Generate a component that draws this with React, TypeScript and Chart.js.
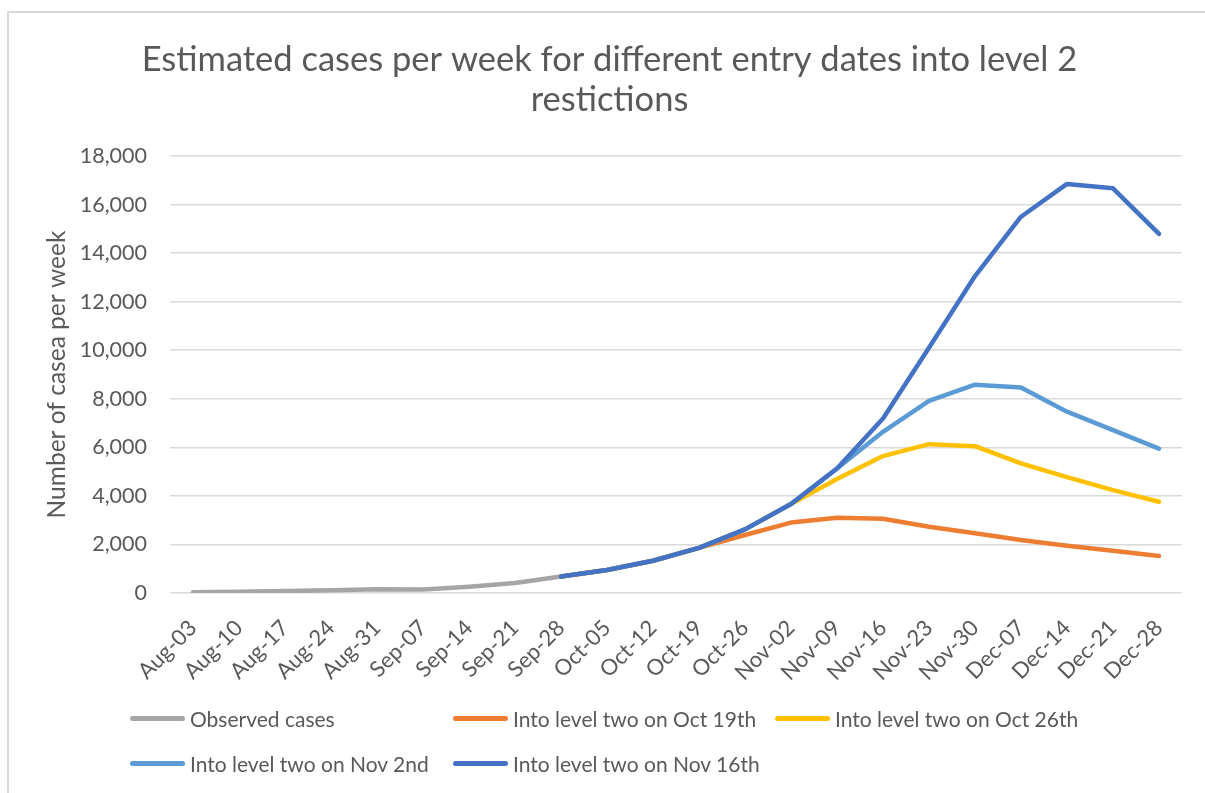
import React, { useEffect, useRef } from "react";
import { Chart, registerables } from "chart.js";

Chart.register(...registerables);

const weeks = [
  "Aug-03", "Aug-10", "Aug-17", "Aug-24", "Aug-31", "Sep-07", "Sep-14", "Sep-21", "Sep-28",
  "Oct-05", "Oct-12", "Oct-19", "Oct-26", "Nov-02", "Nov-09", "Nov-16", "Nov-23", "Nov-30",
  "Dec-07", "Dec-14", "Dec-21", "Dec-28",
];

const observedCases = [30, 50, 80, 110, 150, 140, 260, 410, 680, null, null, null, null, null, null, null, null, null, null, null, null, null];

const levelTwoOct19 = [null, null, null, null, null, null, null, null, 680, 950, 1330, 1860, 2390, 2900, 3100, 3060, 2730, 2460, 2180, 1950, 1740, 1520];
const levelTwoOct26 = [null, null, null, null, null, null, null, null, 680, 950, 1330, 1860, 2620, 3670, 4700, 5640, 6130, 6050, 5340, 4770, 4240, 3760];
const levelTwoNov02 = [null, null, null, null, null, null, null, null, 680, 950, 1330, 1860, 2620, 3670, 5130, 6640, 7910, 8580, 8470, 7470, 6710, 5945];
const levelTwoNov16 = [null, null, null, null, null, null, null, null, 680, 950, 1330, 1860, 2620, 3670, 5130, 7190, 10100, 13056, 15500, 16850, 16670, 14790];

const seriesNames = [
  "Observed cases",
  "Into level two on Oct 19th",
  "Into level two on Oct 26th",
  "Into level two on Nov 2nd",
  "Into level two on Nov 16th",
];
const seriesColors = ["#A5A5A5", "#ED7D31", "#FFC000", "#5B9BD5", "#4472C4"];

const yTicks = [0, 2000, 4000, 6000, 8000, 10000, 12000, 14000, 16000, 18000];

const titleLines = ["Estimated cases per week for different entry dates into level 2", "restictions"];
const yAxisTitle = "Number of casea per week";

const FONT = "Lato, 'Liberation Sans', sans-serif";
const TEXT = "#595959";

const legendSlots = [
  { left: 130, top: 718 },
  { left: 453, top: 718 },
  { left: 775, top: 718 },
  { left: 130, top: 763 },
  { left: 453, top: 763 },
];

const chartFrame = {
  id: "chartFrame",
  beforeDraw(chart: any) {
    const ctx = chart.ctx;
    ctx.save();
    ctx.fillStyle = "#FFFFFF";
    ctx.fillRect(0, 0, chart.width, chart.height);
    ctx.strokeStyle = "#D9D9D9";
    ctx.lineWidth = 2;
    ctx.beginPath();
    ctx.moveTo(8, chart.height + 5);
    ctx.lineTo(8, 12);
    ctx.lineTo(chart.width + 5, 12);
    ctx.stroke();
    ctx.restore();
  },
};

export default function App() {
  const ref = useRef<HTMLCanvasElement | null>(null);

  useEffect(() => {
    if (!ref.current) return;
    const allSeries = [observedCases, levelTwoOct19, levelTwoOct26, levelTwoNov02, levelTwoNov16];
    const chart = new Chart(ref.current, {
      type: "line",
      data: {
        labels: weeks,
        datasets: allSeries.map((d, i) => ({
          label: seriesNames[i],
          data: d,
          order: allSeries.length - 1 - i,
          borderColor: seriesColors[i],
          backgroundColor: seriesColors[i],
          borderWidth: 4.5,
          pointRadius: 0,
          pointHoverRadius: 0,
          borderCapStyle: "round",
          borderJoinStyle: "round",
          tension: 0,
          fill: false,
        })),
      },
      plugins: [chartFrame],
      options: {
        responsive: false,
        animation: false,
        layout: { padding: { left: 37, right: 23, top: 0, bottom: 0 } },
        plugins: {
          legend: { display: false },
          tooltip: { enabled: false },
          title: {
            display: true,
            text: titleLines,
            color: TEXT,
            font: { family: FONT, size: 34.5, weight: "normal", lineHeight: 1.16 },
            padding: { top: 40, bottom: 36 },
          },
        },
        scales: {
          x: {
            type: "category",
            offset: true,
            grid: { display: false, drawTicks: false },
            border: { display: false },
            ticks: {
              color: TEXT,
              font: { family: FONT, size: 22 },
              minRotation: 45,
              maxRotation: 45,
              autoSkip: false,
              padding: 22,
            },
            afterFit: (s: any) => {
              s.height = 200;
            },
          },
          y: {
            min: 0,
            max: 18000,
            afterBuildTicks: (s: any) => {
              s.ticks = yTicks.map((v) => ({ value: v }));
            },
            grid: { color: "#D9D9D9", lineWidth: 1.5, drawTicks: false },
            border: { display: false },
            ticks: {
              color: TEXT,
              font: { family: FONT, size: 21.5 },
              padding: 23,
              callback: (v: any) => Number(v).toLocaleString("en-US"),
            },
            title: {
              display: true,
              text: yAxisTitle,
              color: TEXT,
              font: { family: FONT, size: 24.5 },
              padding: { top: 5, bottom: 0 },
            },
            afterFit: (s: any) => {
              s.width = 133;
            },
          },
        },
      },
    });
    return () => chart.destroy();
  }, []);

  return (
    <div style={{ position: "fixed", left: 0, top: 0, width: 1205, height: 793, overflow: "hidden", background: "#fff" }}>
      <canvas ref={ref} width={1205} height={793} style={{ display: "block", position: "absolute", left: 0, top: 0, width: 1205, height: 793 }} />
      {seriesNames.map((name, i) => (
        <div key={name} style={{ position: "absolute", left: legendSlots[i].left, top: legendSlots[i].top - 15, height: 30, display: "flex", alignItems: "center", whiteSpace: "nowrap" }}>
          <div style={{ width: 55, height: 5, borderRadius: 3, background: seriesColors[i], marginRight: 5 }} />
          <span style={{ fontFamily: FONT, fontSize: 21, color: TEXT }}>{name}</span>
        </div>
      ))}
    </div>
  );
}
